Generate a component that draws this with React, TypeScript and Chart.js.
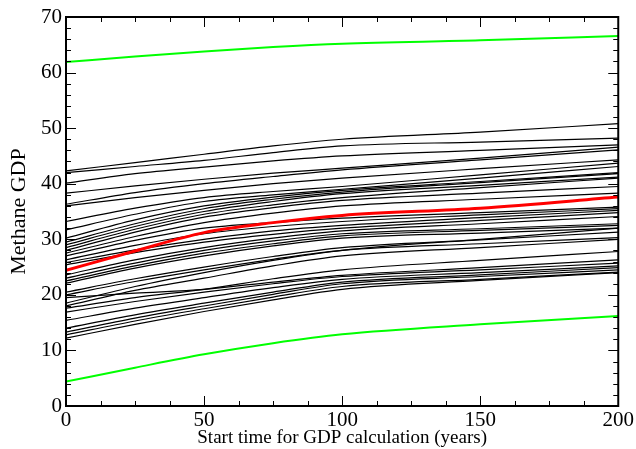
import React, { useEffect, useRef } from "react";
import { Chart, registerables } from "chart.js";

Chart.register(...registerables);

// x positions (years) at which each curve is sampled
const startTimes = [0, 25, 50, 75, 100, 150, 200];

// Black ensemble curves (Methane GDP)
const ensemble: number[][] = [
  [42.3, 43.8, 45.3, 46.8, 48.0, 49.3, 50.8],
  [42.0, 43.1, 44.2, 45.6, 46.8, 47.5, 48.2],
  [40.1, 41.8, 43.0, 44.1, 45.0, 46.0, 47.0],
  [38.3, 39.6, 40.8, 41.9, 42.8, 44.6, 46.6],
  [36.3, 38.4, 40.0, 41.3, 42.5, 44.3, 46.1],
  [36.0, 37.5, 38.8, 40.0, 41.0, 42.7, 44.3],
  [33.2, 35.6, 37.5, 38.6, 39.5, 41.6, 43.7],
  [31.7, 34.5, 36.8, 38.0, 39.0, 41.0, 43.1],
  [30.2, 33.5, 36.0, 37.6, 38.8, 40.4, 42.0],
  [29.5, 32.8, 35.5, 37.2, 38.5, 40.2, 41.8],
  [29.0, 32.3, 35.0, 36.8, 38.2, 39.7, 41.2],
  [28.5, 31.8, 34.5, 36.2, 37.5, 39.3, 41.0],
  [28.0, 31.3, 34.0, 35.7, 37.0, 38.3, 39.5],
  [27.5, 30.5, 33.0, 34.7, 36.0, 37.2, 38.3],
  [27.0, 29.8, 32.0, 33.0, 33.8, 34.8, 35.8],
  [26.3, 28.9, 31.0, 32.3, 33.2, 34.4, 35.5],
  [25.8, 28.1, 30.0, 31.5, 32.5, 33.9, 35.2],
  [25.4, 27.6, 29.5, 30.9, 32.0, 33.4, 34.8],
  [23.6, 26.3, 28.5, 30.2, 31.5, 32.8, 34.1],
  [23.0, 25.7, 28.0, 29.7, 31.0, 31.9, 32.8],
  [22.5, 25.2, 27.5, 29.2, 30.6, 31.6, 32.5],
  [22.1, 24.8, 27.0, 28.8, 30.2, 31.1, 32.0],
  [20.5, 22.9, 25.0, 26.9, 28.5, 29.9, 31.3],
  [20.0, 22.4, 24.5, 26.4, 28.0, 29.2, 30.3],
  [18.5, 21.5, 24.0, 26.2, 28.0, 30.0, 32.0],
  [18.0, 20.8, 23.0, 25.2, 27.0, 28.5, 30.0],
  [17.6, 19.5, 21.0, 22.9, 24.5, 26.2, 27.8],
  [19.5, 20.3, 21.0, 22.3, 23.5, 24.9, 26.3],
  [16.9, 18.8, 20.5, 22.0, 23.3, 24.5, 25.7],
  [15.4, 17.6, 19.5, 21.3, 22.8, 24.0, 25.2],
  [14.0, 16.4, 18.5, 20.5, 22.3, 23.6, 24.9],
  [13.3, 15.8, 18.0, 20.1, 22.0, 23.3, 24.5],
  [12.8, 15.3, 17.5, 19.6, 21.5, 22.8, 24.1],
  [12.2, 14.7, 17.0, 19.1, 21.0, 22.6, 24.0],
];

// Highlighted central curve (red)
const centralCurve = [24.4, 27.9, 31.2, 33.0, 34.3, 35.6, 37.6];
// Upper and lower bounds (green)
const upperBound = [61.9, 62.9, 63.8, 64.6, 65.2, 65.8, 66.6];
const lowerBound = [4.4, 6.9, 9.3, 11.3, 12.9, 14.7, 16.2];

const xTickValues = [0, 50, 100, 150, 200];
const yTickValues = [0, 10, 20, 30, 40, 50, 60, 70];

const FONT = '"Liberation Serif", "Times New Roman", serif';

const toPoints = (vals: number[]) => vals.map((y, i) => ({ x: startTimes[i], y }));

const insideTicks = {
  id: "insideTicks",
  afterDraw(chart: any) {
    const { ctx, chartArea } = chart;
    const xs = chart.scales.x;
    const ys = chart.scales.y;
    const { left, right, top, bottom } = chartArea;
    ctx.save();
    ctx.strokeStyle = "#000";
    ctx.lineWidth = 1;
    ctx.beginPath();
    for (let v = 0; v <= 200.001; v += 12.5) {
      const major = Math.abs(v % 50) < 1e-6;
      const len = major ? 10 : 5;
      const px = Math.round(xs.getPixelForValue(v)) + 0.5;
      ctx.moveTo(px, bottom);
      ctx.lineTo(px, bottom - len);
      ctx.moveTo(px, top);
      ctx.lineTo(px, top + len);
    }
    for (let v = 0; v <= 70.001; v += 2) {
      const major = Math.abs(v % 10) < 1e-6;
      const len = major ? 10 : 5;
      const py = Math.round(ys.getPixelForValue(v)) + 0.5;
      ctx.moveTo(left, py);
      ctx.lineTo(left + len, py);
      ctx.moveTo(right, py);
      ctx.lineTo(right - len, py);
    }
    ctx.stroke();
    ctx.lineWidth = 2;
    ctx.strokeRect(left, top, right - left, bottom - top);
    ctx.restore();
  },
};

export default function App() {
  const ref = useRef<HTMLCanvasElement | null>(null);

  useEffect(() => {
    document.body.style.margin = "0";
    const canvas = ref.current;
    if (!canvas) return;

    const datasets: any[] = ensemble.map((vals) => ({
      data: toPoints(vals),
      borderColor: "#000000",
      borderWidth: 1.2,
      order: 2,
    }));
    datasets.push({ data: toPoints(centralCurve), borderColor: "#ff0000", borderWidth: 3, order: 1 });
    datasets.push({ data: toPoints(upperBound), borderColor: "#00ff00", borderWidth: 2, order: 0 });
    datasets.push({ data: toPoints(lowerBound), borderColor: "#00ff00", borderWidth: 2, order: 0 });

    const chart = new Chart(canvas, {
      type: "line",
      data: { datasets },
      options: {
        animation: false,
        responsive: false,
        maintainAspectRatio: false,
        layout: { padding: { top: 17, right: 15, left: 0, bottom: 0 } },
        elements: {
          point: { radius: 0 },
          line: { tension: 0.4, cubicInterpolationMode: "monotone", fill: false },
        },
        plugins: { legend: { display: false }, tooltip: { enabled: false } },
        scales: {
          x: {
            type: "linear",
            min: 0,
            max: 200,
            afterBuildTicks: (s: any) => {
              s.ticks = xTickValues.map((v) => ({ value: v }));
            },
            afterFit: (s: any) => {
              s.height = 43;
            },
            grid: { display: false, drawTicks: false },
            border: { display: false },
            ticks: {
              color: "#000",
              font: { family: FONT, size: 21 },
              padding: 2,
              maxRotation: 0,
              autoSkip: false,
            },
            title: {
              display: true,
              text: "Start time for GDP calculation (years)",
              color: "#000",
              font: { family: FONT, size: 19 },
              padding: { top: -3, bottom: 0 },
            },
          },
          y: {
            type: "linear",
            min: 0,
            max: 70,
            afterBuildTicks: (s: any) => {
              s.ticks = yTickValues.map((v) => ({ value: v }));
            },
            afterFit: (s: any) => {
              s.width = 66;
            },
            grid: { display: false, drawTicks: false },
            border: { display: false },
            ticks: {
              color: "#000",
              font: { family: FONT, size: 21 },
              padding: 4,
              autoSkip: false,
            },
            title: {
              display: true,
              text: "Methane GDP",
              color: "#000",
              font: { family: FONT, size: 22 },
              padding: { top: 6, bottom: 0 },
            },
          },
        },
      },
      plugins: [insideTicks],
    });

    return () => chart.destroy();
  }, []);

  return (
    <div style={{ position: "absolute", left: 0, top: 0, width: 636, height: 449, background: "#fff" }}>
      <canvas ref={ref} width={636} height={449} style={{ display: "block", width: 636, height: 449 }} />
    </div>
  );
}
